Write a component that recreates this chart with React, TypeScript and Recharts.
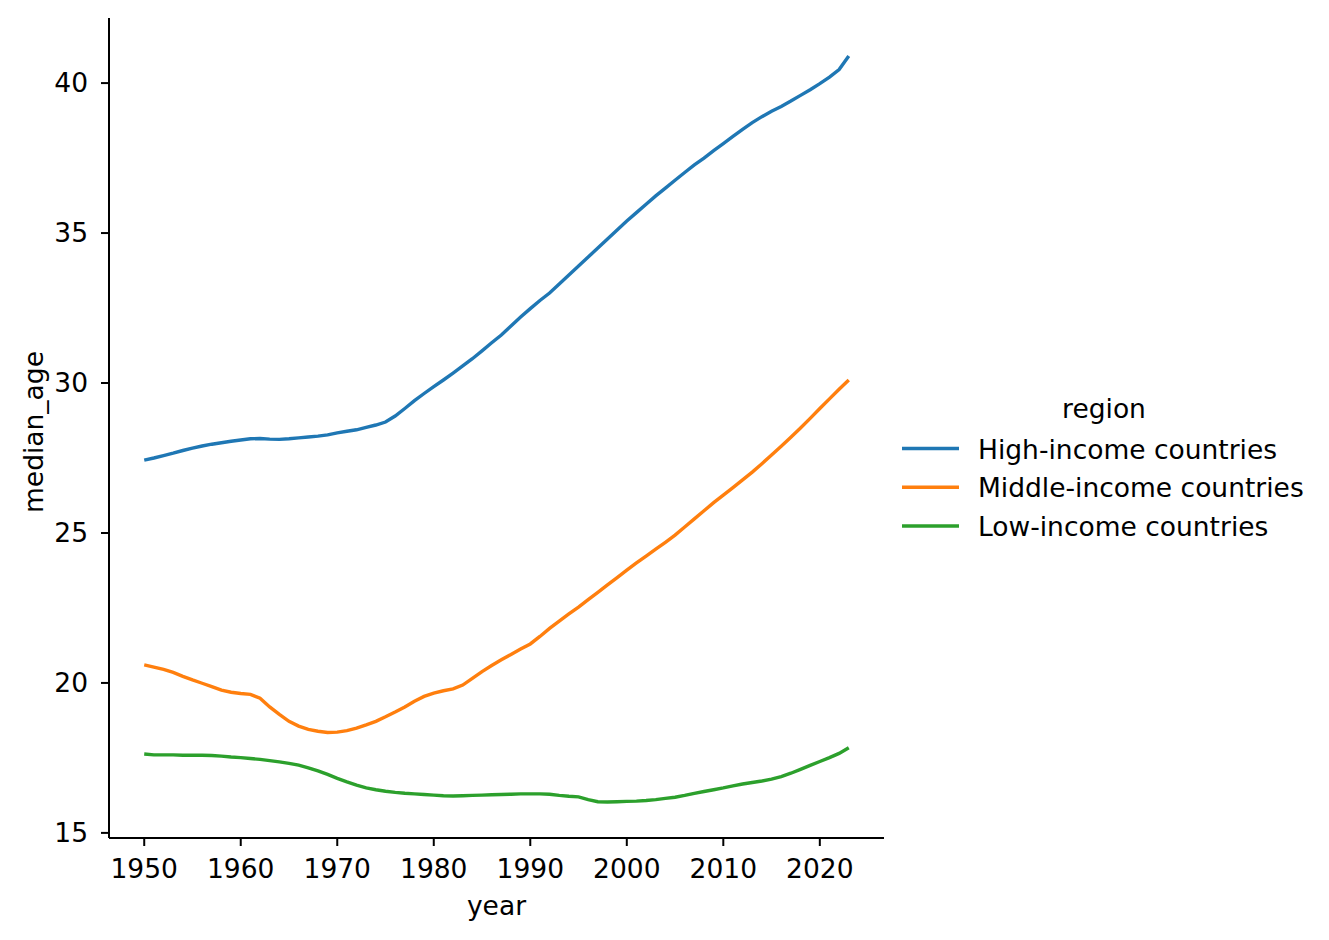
import React from 'react'
import { LineChart, Line, XAxis, YAxis, Legend, Label } from 'recharts'

const years = [
  1950, 1951, 1952, 1953, 1954, 1955, 1956, 1957, 1958, 1959,
  1960, 1961, 1962, 1963, 1964, 1965, 1966, 1967, 1968, 1969,
  1970, 1971, 1972, 1973, 1974, 1975, 1976, 1977, 1978, 1979,
  1980, 1981, 1982, 1983, 1984, 1985, 1986, 1987, 1988, 1989,
  1990, 1991, 1992, 1993, 1994, 1995, 1996, 1997, 1998, 1999,
  2000, 2001, 2002, 2003, 2004, 2005, 2006, 2007, 2008, 2009,
  2010, 2011, 2012, 2013, 2014, 2015, 2016, 2017, 2018, 2019,
  2020, 2021, 2022, 2023,
]

const highIncome = [
  27.43, 27.5, 27.58, 27.66, 27.75, 27.83, 27.9, 27.96, 28.01, 28.06,
  28.1, 28.14, 28.15, 28.13, 28.12, 28.14, 28.17, 28.2, 28.23, 28.27,
  28.34, 28.39, 28.44, 28.52, 28.6, 28.7, 28.9, 29.15, 29.41, 29.65,
  29.88, 30.1, 30.33, 30.57, 30.81, 31.07, 31.34, 31.6, 31.9, 32.2,
  32.48, 32.75, 33.0, 33.3, 33.6, 33.9, 34.2, 34.5, 34.8, 35.1,
  35.4, 35.68, 35.96, 36.24, 36.5, 36.76, 37.02, 37.27, 37.5, 37.75,
  37.98, 38.22, 38.46, 38.68, 38.88, 39.06, 39.22, 39.4, 39.59, 39.78,
  39.98, 40.2, 40.45, 40.9,
]

const middleIncome = [
  20.6, 20.53, 20.45, 20.35, 20.22, 20.1, 19.99, 19.88, 19.76, 19.69,
  19.65, 19.62, 19.49, 19.2, 18.95, 18.72, 18.56, 18.45, 18.39, 18.35,
  18.36, 18.41, 18.49, 18.6, 18.72, 18.87, 19.03, 19.2, 19.39, 19.55,
  19.66, 19.74, 19.8, 19.93, 20.15, 20.38, 20.58, 20.77, 20.95, 21.13,
  21.3, 21.55, 21.82, 22.06, 22.3, 22.53, 22.78, 23.02, 23.27, 23.51,
  23.76, 24.0, 24.23, 24.46, 24.69, 24.93, 25.2, 25.47, 25.74, 26.01,
  26.26, 26.51, 26.77, 27.03, 27.31, 27.6, 27.89, 28.19, 28.5, 28.82,
  29.15, 29.47, 29.79, 30.1,
]

const lowIncome = [
  17.63, 17.6, 17.6, 17.6, 17.59, 17.59, 17.59, 17.58, 17.56, 17.53,
  17.51, 17.48, 17.45, 17.41, 17.37, 17.32, 17.26, 17.17, 17.07, 16.95,
  16.82, 16.7, 16.59, 16.5, 16.44, 16.39, 16.35, 16.32, 16.3, 16.28,
  16.26, 16.24, 16.23, 16.24, 16.25, 16.26, 16.27, 16.28, 16.29, 16.3,
  16.3, 16.3, 16.29, 16.25, 16.22, 16.2, 16.11, 16.04, 16.03, 16.04,
  16.05, 16.06, 16.08, 16.11, 16.15, 16.19, 16.25, 16.32, 16.38, 16.44,
  16.5, 16.57, 16.63, 16.68, 16.73, 16.79, 16.88, 16.99, 17.12, 17.25,
  17.38, 17.51, 17.65, 17.84,
]

const xTicks = [1950, 1960, 1970, 1980, 1990, 2000, 2010, 2020]
const yTicks = [15, 20, 25, 30, 35, 40]

const series = [
  { key: 'high', name: 'High-income countries', color: '#1f77b4' },
  { key: 'middle', name: 'Middle-income countries', color: '#ff7f0e' },
  { key: 'low', name: 'Low-income countries', color: '#2ca02c' },
]

const data = years.map((year, i) => ({
  year,
  high: highIncome[i],
  middle: middleIncome[i],
  low: lowIncome[i],
}))

const FONT = 'DejaVu Sans'
const FS = 26.5
const tickStyle = { fill: '#000', fontSize: FS, fontFamily: FONT }

function RegionLegend(props: any) {
  // keep the legend in the same order as the series, not alphabetical
  const order = series.map((s) => s.name)
  const items = [...(props.payload || [])].sort(
    (a: any, b: any) => order.indexOf(a.value) - order.indexOf(b.value)
  )
  return (
    <svg width={1329} height={940} style={{ position: 'absolute', left: 0, top: 0 }}>
      <text x={1104} y={418} textAnchor="middle" fontSize={FS} fontFamily={FONT} fill="#000">region</text>
      {items.map((item: any, i: number) => {
        const y = 448.5 + i * 38.7
        return (
          <g key={item.value}>
            <line x1={902} x2={959} y1={y} y2={y} stroke={item.color} strokeWidth={3.5} />
            <text x={978} y={y + 10} fontSize={FS} fontFamily={FONT} fill="#000">{item.value}</text>
          </g>
        )
      })}
    </svg>
  )
}

export default function App() {
  return (
    <div style={{ position: 'absolute', left: 0, top: 0, width: 1329, height: 940, background: '#fff' }}>
      <LineChart width={1329} height={940} data={data} margin={{ top: 18, right: 445, bottom: 42, left: 49 }}>
        <XAxis
          dataKey="year"
          type="number"
          domain={[1946.35, 2026.65]}
          ticks={xTicks}
          allowDataOverflow
          height={60}
          tickSize={8}
          tickMargin={13}
          tick={tickStyle}
          axisLine={{ stroke: '#000', strokeWidth: 2 }}
          tickLine={{ stroke: '#000', strokeWidth: 2 }}
        >
          <Label
            content={({ viewBox }: any) => (
              <text x={viewBox.x + viewBox.width / 2} y={915} textAnchor="middle" fontSize={FS} fontFamily={FONT} fill="#000">year</text>
            )}
          />
        </XAxis>
        <YAxis
          type="number"
          domain={[14.83, 42.17]}
          ticks={yTicks}
          allowDataOverflow
          width={60}
          tickSize={8}
          tickMargin={13}
          tick={tickStyle}
          axisLine={{ stroke: '#000', strokeWidth: 2 }}
          tickLine={{ stroke: '#000', strokeWidth: 2 }}
        >
          <Label
            content={({ viewBox }: any) => {
              const cy = viewBox.y + viewBox.height / 2 + 4
              return (
                <text x={43} y={cy} transform={`rotate(-90, 43, ${cy})`} textAnchor="middle" fontSize={FS} fontFamily={FONT} fill="#000">median_age</text>
              )
            }}
          />
        </YAxis>
        <Legend
          layout="vertical"
          align="center"
          verticalAlign="middle"
          content={RegionLegend}
          wrapperStyle={{ left: 0, top: 0, width: 1329, height: 940, pointerEvents: 'none' }}
        />
        {series.map((s) => (
          <Line
            key={s.key}
            dataKey={s.key}
            name={s.name}
            type="linear"
            stroke={s.color}
            strokeWidth={3.4}
            dot={false}
            activeDot={false}
            isAnimationActive={false}
          />
        ))}
      </LineChart>
    </div>
  )
}
